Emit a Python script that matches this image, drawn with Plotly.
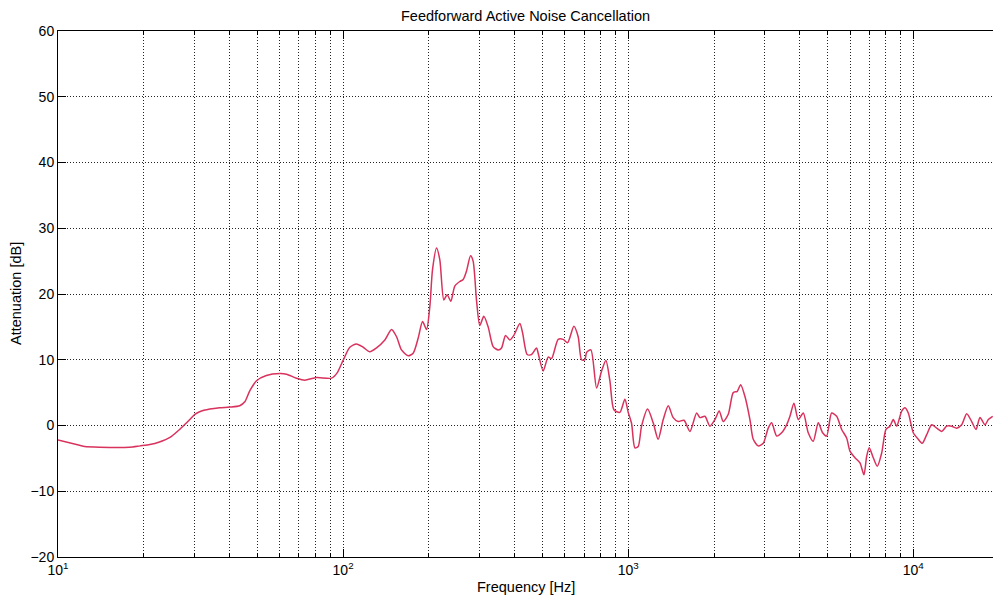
import plotly.graph_objects as go

freq_hz = [10, 11.9, 12.4, 14.0, 17.8, 19.4, 21.0, 22.7, 24.7, 26.7, 29.0, 30.2, 31.4, 34.1, 36.9,
           40.0, 43.4, 45.2, 47.1, 49.7, 53.8, 60.0, 63.3, 68.6, 73.4, 80.7, 91.1, 95.3, 100,
           105.6, 111.4, 117.6, 124.1, 131.0, 140.1, 147.9, 154.0, 160.3, 169.1, 176.1, 183.4,
           190.0, 196.2, 201.5, 205.9, 212.7, 218.4, 225.6, 231.7, 238.7, 246.5, 256.7, 263.7,
           271.0, 279.9, 285.8, 293.8, 301.7, 311.6, 322.7, 336.0, 349.9, 359.6, 371.4, 384.5,
           397.1, 416.9, 426.1, 442.2, 458.2, 477.1, 483.3, 503.3, 524.0, 538.6, 568.2, 591.6,
           613.1, 644.9, 667.7, 686.3, 705.0, 714.5, 739.8, 774.7, 806.7, 835.3, 862.7, 891,
           935.2, 973.6, 1000, 1027.8, 1055.6, 1084, 1114, 1170, 1224, 1274, 1327, 1382, 1438,
           1498, 1569, 1647, 1738, 1785, 1858, 1935, 2015, 2086, 2154, 2244, 2336, 2413, 2480,
           2568, 2673, 2746, 2858, 2977, 3099, 3186, 3317, 3454, 3596, 3693, 3814, 3950, 4112,
           4281, 4458, 4642, 4809, 4967, 5171, 5385, 5608, 5837, 5996, 6243, 6502, 6714, 6862,
           7008, 7238, 7476, 7746, 8020, 8283, 8507, 8746, 9107, 9352, 9605, 10000, 10411,
           10754, 11144, 11603, 12081, 12580, 13098, 13637, 14200, 14785, 15393, 16027, 16596,
           17140, 17845, 18327, 18990]

atten_db = [-2.2, -3.0, -3.2, -3.3, -3.3, -3.1, -2.9, -2.5, -1.8, -0.6, 0.9, 1.7, 2.1, 2.5, 2.7,
            2.8, 3.0, 3.6, 5.3, 6.8, 7.6, 7.9, 7.8, 7.2, 6.9, 7.3, 7.2, 8.0, 9.9,
            11.9, 12.4, 11.9, 11.2, 11.8, 13.0, 14.6, 13.5, 11.5, 10.6, 11.0, 13.3,
            15.8, 14.6, 18.1, 23.7, 27.0, 25.2, 19.1, 19.9, 18.9, 21.2, 21.9, 22.2,
            23.5, 25.8, 25.0, 19.0, 15.2, 16.6, 15.0, 12.0, 11.5, 11.8, 13.7, 13.0,
            13.7, 15.5, 14.1, 10.8, 10.8, 11.8, 11.0, 8.3, 10.4, 10.2, 13.1, 13.1,
            12.6, 15.1, 13.5, 10.0, 10.0, 11.1, 11.5, 5.7, 8.3, 9.9, 6.8, 2.4,
            2.0, 4.0, 2.0, 0.3, -3.4, -3.2, -0.1, 2.5, 0.4, -2.1, 0.9, 3.0, 1.2,
            0.6, 0.8, -0.9, 1.9, 1.2, 1.4, -0.1, 0.9, 2.2, 0.6, 1.7, 5.0, 5.2, 6.2,
            4.4, 0.9, -2.1, -3.1, -2.7, -0.4, 0.4, -1.6, -1.1, 0.1, 1.4, 3.4, 0.9, 1.9,
            -1.1, -2.4, 0.4, -1.1, -1.6, 1.9, 1.4, -0.6, -1.9, -3.9, -4.9, -5.7, -7.5, -4.7,
            -3.4, -4.9, -6.2, -4.2, -0.6, -0.1, 0.9, -0.1, 2.2, 2.7, 1.9, -1.1, -2.1,
            -2.7, -1.4, 0.1, -0.4, -0.9, -0.1, -0.1, -0.4, 0.1, 1.8, 0.6, -0.6,
            1.2, 0.1, 0.9, 1.4]

x_major = [10, 100, 1000, 10000]
x_major_text = ["10<sup>1</sup>", "10<sup>2</sup>", "10<sup>3</sup>", "10<sup>4</sup>"]
x_minor = [m * d for d in (10, 100, 1000, 10000) for m in range(2, 10)]
y_ticks = [-20, -10, 0, 10, 20, 30, 40, 50, 60]

FONT = "Liberation Sans, Arial, Helvetica, sans-serif"
GRID = dict(showgrid=True, gridcolor="#222222", gridwidth=1, griddash="1px,2px")

fig = go.Figure(go.Scatter(x=freq_hz, y=atten_db, mode="lines", hoverinfo="skip",
                           line=dict(color="#d8325d", width=1.5, shape="spline", smoothing=0.7)))

fig.update_layout(
    width=993, height=599, autosize=False,
    margin=dict(l=58, r=0, t=31, b=42),
    paper_bgcolor="white", plot_bgcolor="white",
    showlegend=False,
    font=dict(family=FONT, size=14, color="black"),
    annotations=[
        dict(text="Feedforward Active Noise Cancellation", xref="paper", yref="paper",
             x=0.5, y=1, yshift=15, showarrow=False, font=dict(size=14.5),
             xanchor="center", yanchor="middle"),
        dict(text="Frequency [Hz]", xref="paper", yref="paper", x=0.5, y=0, yshift=-30,
             showarrow=False, font=dict(size=14.5), xanchor="center", yanchor="middle"),
        dict(text="Attenuation [dB]", xref="paper", yref="paper", x=0, xshift=-42, y=0.5,
             showarrow=False, font=dict(size=14.5), textangle=-90,
             xanchor="center", yanchor="middle"),
    ],
)

fig.update_xaxes(
    type="log", range=[1, 4.2796],
    tickmode="array", tickvals=x_major, ticktext=x_major_text,
    ticks="inside", ticklen=8, tickcolor="black", tickwidth=1,
    showline=True, linecolor="black", linewidth=1, mirror="ticks",
    zeroline=False, tickfont=dict(size=14),
    minor=dict(tickvals=x_minor, ticks="inside", ticklen=4, tickcolor="black", **GRID),
    **GRID,
)
fig.update_yaxes(
    range=[-20, 60], tickmode="array", tickvals=y_ticks,
    ticks="inside", ticklen=8, tickcolor="black", tickwidth=1,
    showline=True, linecolor="black", linewidth=1,
    zeroline=False, tickfont=dict(size=14),
    **GRID,
)

fig.write_html(
    "out.html",
    config={"displayModeBar": False, "staticPlot": True},
    post_script="document.body.style.margin='0';"
                "document.body.style.overflow='hidden';"
                "document.documentElement.style.overflow='hidden';",
)
